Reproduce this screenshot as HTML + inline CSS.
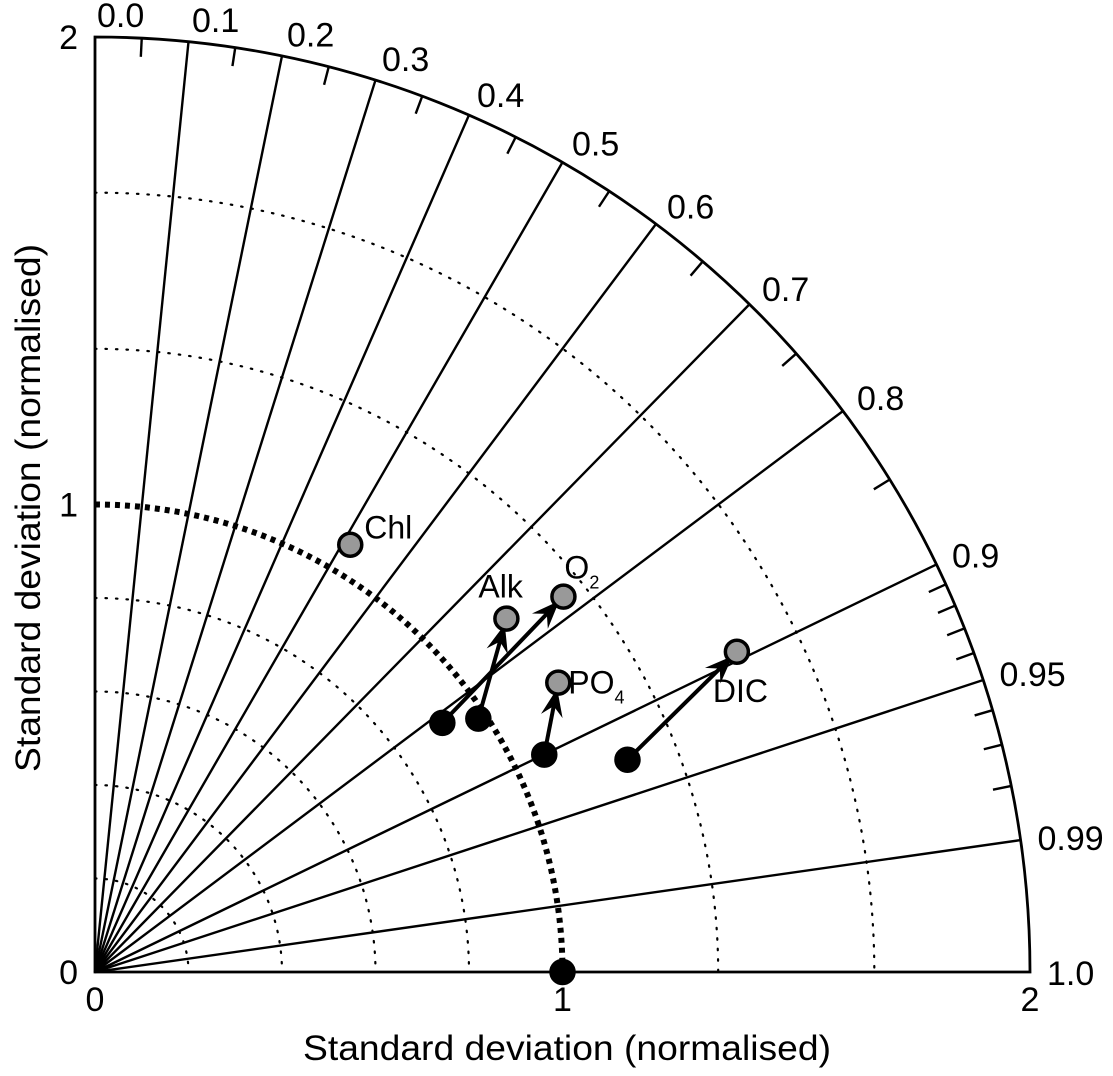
<!DOCTYPE html>
<html><head><meta charset="utf-8"><style>
body{margin:0;background:#fff}
svg{display:block;font-family:"Liberation Sans",sans-serif}
</style></head><body>
<svg id="chart" width="1113" height="1076" viewBox="0 0 1113 1076">
<g id="grid"></g>
<g id="marks"></g>
<text x="567" y="1060" font-size="35" text-anchor="middle" textLength="528" lengthAdjust="spacingAndGlyphs">Standard deviation (normalised)</text>
<text transform="translate(40,508) rotate(-90)" font-size="35" text-anchor="middle" textLength="528" lengthAdjust="spacingAndGlyphs">Standard deviation (normalised)</text>
</svg>
<script>
const corrLines=[0.1,0.2,0.3,0.4,0.5,0.6,0.7,0.8,0.9,0.95,0.99];
const corrLabels=["0.0","0.1","0.2","0.3","0.4","0.5","0.6","0.7","0.8","0.9","0.95","0.99","1.0"];
const corrLabelVals=[0,0.1,0.2,0.3,0.4,0.5,0.6,0.7,0.8,0.9,0.95,0.99,1.0];
const minorTicks=[0.05,0.15,0.25,0.35,0.45,0.55,0.65,0.75,0.85,0.91,0.92,0.93,0.94,0.96,0.97,0.98];
const dottedArcs=[0.2,0.4,0.6,0.8,1.333,1.667];
const sdTicks=[0,1,2];
const names=["Chl","Alk","O2","PO4","DIC"];
const modelX=[0.546,0.880,1.002,0.991,1.373];
const modelY=[0.914,0.756,0.803,0.619,0.685];
const prevX=[null,0.820,0.743,0.961,1.139];
const prevY=[null,0.542,0.533,0.465,0.454];
const refX=[1.0], refY=[0.0];
const O={x:95,y:972},S=467.5,NS="http://www.w3.org/2000/svg";
const px=v=>O.x+v*S, py=v=>O.y-v*S;
function mk(p,t,a){const e=document.createElementNS(NS,t);for(const k in a)e.setAttribute(k,a[k]);p.appendChild(e);return e;}
const g=document.getElementById('grid'),m=document.getElementById('marks');
function arc(r){return `M${px(0)},${py(r)} A${r*S},${r*S} 0 0 1 ${px(r)},${py(0)}`;}
dottedArcs.forEach(r=>{const e=mk(g,'path',{d:arc(r),fill:'none',stroke:'#000','stroke-width':2.2,'stroke-dasharray':'1.5 9','stroke-linecap':'round'});

});
const ra=mk(g,'path',{d:arc(1),fill:'none',stroke:'#000','stroke-width':6,'stroke-dasharray':'5 5'});


corrLines.forEach(c=>{const t=Math.acos(c);const e=mk(g,'line',{x1:px(0),y1:py(0),x2:px(2*Math.cos(t)),y2:py(2*Math.sin(t)),stroke:'#000','stroke-width':2.4});

});
minorTicks.forEach(c=>{const t=Math.acos(c);const e=mk(g,'line',{x1:px(2*Math.cos(t)),y1:py(2*Math.sin(t)),x2:px(1.96*Math.cos(t)),y2:py(1.96*Math.sin(t)),stroke:'#000','stroke-width':2.4});

});
const ob=mk(g,'path',{d:`M${px(0)},${py(0)} L${px(0)},${py(2)} A${2*S},${2*S} 0 0 1 ${px(2)},${py(0)} Z`,fill:'none',stroke:'#000','stroke-width':2.8});


corrLabelVals.forEach((c,i)=>{const t=Math.acos(c);const ex=px(2*Math.cos(t)),ey=py(2*Math.sin(t));
const e=mk(g,'text',{x:ex+15*Math.cos(t)+2,y:ey+13-23*Math.sin(t),'font-size':34});e.textContent=corrLabels[i];

});
sdTicks.forEach(v=>{let e=mk(g,'text',{x:px(v),y:1011,'font-size':34,'text-anchor':'middle'});e.textContent=v;


e=mk(g,'text',{x:78,y:py(v)+12,'font-size':34,'text-anchor':'end'});e.textContent=v;

});
function dot(x,y,fill,name){const e=mk(m,'circle',{cx:px(x),cy:py(y),r:11.5,fill:fill,stroke:'#000','stroke-width':3.5});

}
names.forEach((n,i)=>{
 if(prevX[i]!==null){const x1=px(prevX[i]),y1=py(prevY[i]),x2=px(modelX[i]),y2=py(modelY[i]);
  const a=Math.atan2(y2-y1,x2-x1),tx=x2-6*Math.cos(a),ty=y2-6*Math.sin(a);
  const l=mk(m,'line',{x1:x1,y1:y1,x2:tx-14*Math.cos(a),y2:ty-14*Math.sin(a),stroke:'#000','stroke-width':4});
  
  
  const h=mk(m,'path',{d:`M${tx},${ty} L${tx-28*Math.cos(a)+11*Math.sin(a)},${ty-28*Math.sin(a)-11*Math.cos(a)} L${tx-18*Math.cos(a)},${ty-18*Math.sin(a)} L${tx-28*Math.cos(a)-11*Math.sin(a)},${ty-28*Math.sin(a)+11*Math.cos(a)} Z`,fill:'#000'});
  
  
  dot(prevX[i],prevY[i],'#000','previous-model-point');}
});
names.forEach((n,i)=>{dot(modelX[i],modelY[i],'#999','model-point');});
dot(refX[0],refY[0],'#000','reference-point');
const lab={Chl:[14,-6,'Chl'],Alk:[-28,-21,'Alk'],O2:[1,-18,'O'],PO4:[10,11,'PO'],DIC:[-24,50,'DIC']};
names.forEach((n,i)=>{const L=lab[n];const e=mk(m,'text',{x:px(modelX[i])+L[0],y:py(modelY[i])+L[1],'font-size':32});e.textContent=L[2];
 if(n==='O2'||n==='PO4'){const s=mk(e,'tspan',{'font-size':18,dy:10});s.textContent=n==='O2'?'2':'4';}
 
 });
</script>
</body></html>
